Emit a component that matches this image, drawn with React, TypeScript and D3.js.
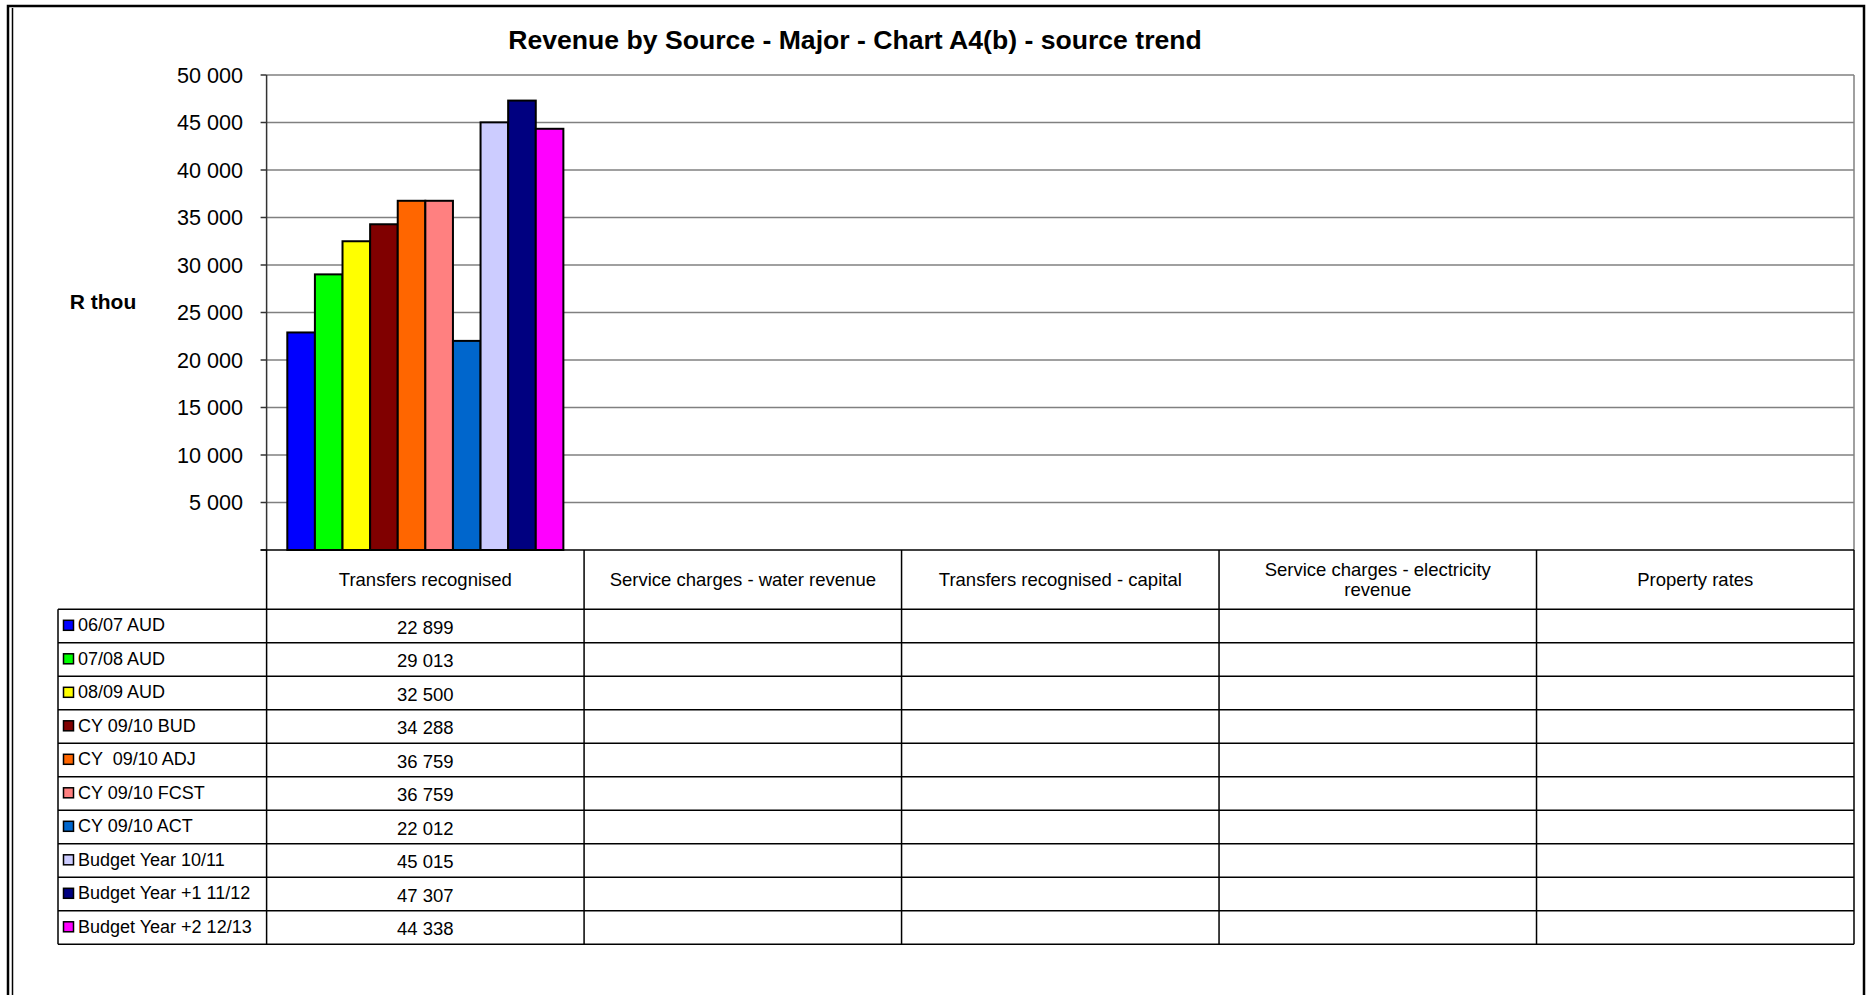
import React from "react";
import * as d3 from "d3";

const title = "Revenue by Source - Major - Chart A4(b) - source trend";
const yAxisTitle = "R thou";
const categories = [
  "Transfers recognised",
  "Service charges - water revenue",
  "Transfers recognised - capital",
  "Service charges - electricity revenue",
  "Property rates",
];
const categoryLabelLines = [
  ["Transfers recognised"],
  ["Service charges - water revenue"],
  ["Transfers recognised - capital"],
  ["Service charges - electricity", "revenue"],
  ["Property rates"],
];
const seriesNames = [
  "06/07 AUD",
  "07/08 AUD",
  "08/09 AUD",
  "CY 09/10 BUD",
  "CY  09/10 ADJ",
  "CY 09/10 FCST",
  "CY 09/10 ACT",
  "Budget Year 10/11",
  "Budget Year +1 11/12",
  "Budget Year +2 12/13",
];
const seriesColors = [
  "#0000FF",
  "#00FF00",
  "#FFFF00",
  "#800000",
  "#FF6600",
  "#FF8080",
  "#0066CC",
  "#CCCCFF",
  "#000080",
  "#FF00FF",
];
// values per series, one per category (null = no data)
const transfersRecognised = [22899, 29013, 32500, 34288, 36759, 36759, 22012, 45015, 47307, 44338];
const waterRevenue: (number | null)[] = [null, null, null, null, null, null, null, null, null, null];
const transfersCapital: (number | null)[] = [null, null, null, null, null, null, null, null, null, null];
const electricityRevenue: (number | null)[] = [null, null, null, null, null, null, null, null, null, null];
const propertyRates: (number | null)[] = [null, null, null, null, null, null, null, null, null, null];
const categoryValues = [transfersRecognised, waterRevenue, transfersCapital, electricityRevenue, propertyRates];
const yTicks = [5000, 10000, 15000, 20000, 25000, 30000, 35000, 40000, 45000, 50000];

const W = 1866;
const H = 995;
const FONT = "'Liberation Sans', Arial, sans-serif";

const plotLeft = 266.6;
const plotRight = 1854;
const plotTop = 75;
const plotBottom = 550;
const headerBottom = 609.3;
const rowH = 33.5;
const legendLeft = 58;

const fmt = (v: number) => d3.format(",")(v).replace(/,/g, " ");

export default function App() {
  const x = d3.scaleBand<string>().domain(categories).range([plotLeft, plotRight]).padding(0);
  const y = d3.scaleLinear().domain([0, 50000]).range([plotBottom, plotTop]);
  const catW = x.bandwidth();
  const barW = catW / (seriesNames.length + 1.5);
  const inner = d3
    .scaleBand<number>()
    .domain(d3.range(seriesNames.length))
    .range([barW * 0.75, catW - barW * 0.75])
    .padding(0);
  const rowY = d3
    .scaleLinear()
    .domain([0, seriesNames.length])
    .range([headerBottom, headerBottom + rowH * seriesNames.length]);
  const tableBottom = rowY(seriesNames.length);

  return (
    <svg
      width={W}
      height={H}
      style={{ position: "absolute", left: 0, top: 0, background: "#fff" }}
      fontFamily={FONT}
    >
      <rect x={0} y={0} width={W} height={H} fill="#fff" />
      {/* outer frame */}
      <rect x={8} y={6} width={1856} height={1010} fill="none" stroke="#000" strokeWidth={2.5} />
      <line x1={12.5} x2={12.5} y1={8} y2={H} stroke="#000" strokeWidth={1.5} />

      {/* title */}
      <text x={855} y={49} textAnchor="middle" fontSize={26.6} fontWeight="bold" fill="#000">
        {title}
      </text>

      {/* gridlines */}
      {yTicks.map((t) => (
        <line key={t} x1={plotLeft} x2={plotRight} y1={y(t)} y2={y(t)} stroke="#808080" strokeWidth={1.5} />
      ))}
      <line x1={plotRight} x2={plotRight} y1={plotTop} y2={plotBottom} stroke="#808080" strokeWidth={1.5} />

      {/* bars */}
      {categories.map((c, ci) =>
        categoryValues[ci].map((v, si) =>
          v == null ? null : (
            <rect
              key={c + si}
              x={(x(c) as number) + (inner(si) as number)}
              y={y(v)}
              width={inner.bandwidth()}
              height={y(0) - y(v)}
              fill={seriesColors[si]}
              stroke="#000"
              strokeWidth={2}
            />
          )
        )
      )}

      {/* y axis */}
      <line x1={plotLeft} x2={plotLeft} y1={plotTop} y2={plotBottom} stroke="#333" strokeWidth={1.5} />
      {[0, ...yTicks].map((t) => (
        <line key={"tk" + t} x1={plotLeft - 6} x2={plotLeft} y1={y(t)} y2={y(t)} stroke="#333" strokeWidth={1.5} />
      ))}
      {yTicks.map((t) => (
        <text key={"tl" + t} x={243} y={y(t)} dy="0.36em" textAnchor="end" fontSize={21.6} fill="#000">
          {fmt(t)}
        </text>
      ))}
      <text x={103} y={301} dy="0.36em" textAnchor="middle" fontSize={21} fontWeight="bold" fill="#000">
        {yAxisTitle}
      </text>

      {/* x axis line */}
      <line x1={plotLeft - 6} x2={plotRight} y1={plotBottom} y2={plotBottom} stroke="#000" strokeWidth={1.5} />

      {/* data table */}
      {categories.map((c, ci) => {
        const lines = categoryLabelLines[ci];
        const cy = (plotBottom + headerBottom) / 2;
        return (
          <text key={"h" + c} textAnchor="middle" fontSize={18.5} fill="#000">
            {lines.map((l, li) => (
              <tspan key={li} x={(x(c) as number) + catW / 2} y={cy + (li - (lines.length - 1) / 2) * 20} dy="0.36em">
                {l}
              </tspan>
            ))}
          </text>
        );
      })}
      {/* vertical lines */}
      {categories.map((c) => (
        <line key={"v" + c} x1={x(c)} x2={x(c)} y1={plotBottom} y2={tableBottom} stroke="#000" strokeWidth={1.5} />
      ))}
      <line x1={plotRight} x2={plotRight} y1={plotBottom} y2={tableBottom} stroke="#000" strokeWidth={1.5} />
      <line x1={legendLeft} x2={legendLeft} y1={headerBottom} y2={tableBottom} stroke="#000" strokeWidth={1.5} />
      {/* horizontal lines */}
      {d3.range(seriesNames.length + 1).map((i) => (
        <line key={"hr" + i} x1={legendLeft} x2={plotRight} y1={rowY(i)} y2={rowY(i)} stroke="#000" strokeWidth={1.5} />
      ))}
      {/* rows */}
      {seriesNames.map((s, si) => (
        <g key={"row" + s}>
          <rect x={63.5} y={rowY(si) + 11} width={10} height={10} fill={seriesColors[si]} stroke="#000" strokeWidth={1.5} />
          <text x={78} y={rowY(si) + rowH / 2 - 1.5} dy="0.36em" fontSize={18} fill="#000" style={{ whiteSpace: "pre" }}>
            {s}
          </text>
          {categories.map((c, ci) => {
            const v = categoryValues[ci][si];
            return v == null ? null : (
              <text
                key={"val" + c}
                x={(x(c) as number) + catW / 2}
                y={rowY(si) + rowH / 2 + 1}
                dy="0.36em"
                textAnchor="middle"
                fontSize={18.5}
                fill="#000"
              >
                {fmt(v)}
              </text>
            );
          })}
        </g>
      ))}
    </svg>
  );
}
